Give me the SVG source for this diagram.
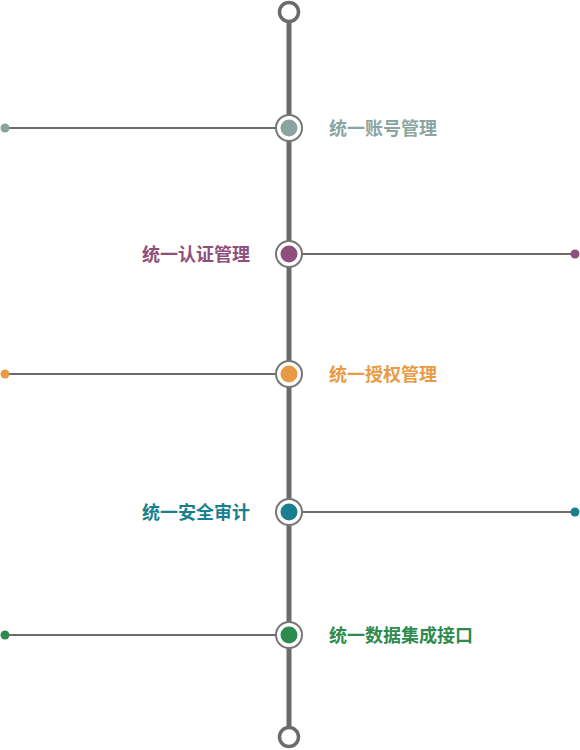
<svg xmlns="http://www.w3.org/2000/svg" width="580" height="750" viewBox="0 0 580 750">
<style>
.spine{stroke:#6b6b6b;stroke-width:5}
.end{fill:#fff;stroke:#6b6b6b;stroke-width:3.5}
.ring{fill:#fff;stroke:#777;stroke-width:2}
.conn{stroke:#6b6b6b;stroke-width:2}
text{font-family:"Noto Sans CJK SC","Noto Sans",sans-serif;font-size:18px;font-weight:bold;dominant-baseline:central}
</style>
<rect width="580" height="750" fill="#fff"/>
<g id="connectors">
<line class="spine" x1="289" y1="12" x2="289" y2="737"/>
<line class="conn" x1="5" y1="128" x2="289" y2="128"/>
<line class="conn" x1="289" y1="254" x2="575" y2="254"/>
<line class="conn" x1="5" y1="374" x2="289" y2="374"/>
<line class="conn" x1="289" y1="512" x2="575" y2="512"/>
<line class="conn" x1="5" y1="635" x2="289" y2="635"/>
</g>
<g id="top"><circle class="end" cx="289" cy="12" r="9.5"/></g>
<g id="bottom"><circle class="end" cx="289" cy="737" r="9.5"/></g>
<g id="n1">
<circle cx="5" cy="128" r="4.5" fill="#8aa5a0"/>
<circle class="ring" cx="289" cy="128" r="13"/>
<circle cx="289" cy="128" r="8.5" fill="#8aa5a0"/>
<text x="329" y="127" fill="#8aa5a0">统一账号管理</text>
</g>
<g id="n2">
<circle cx="575" cy="254" r="4.5" fill="#8e4f7a"/>
<circle class="ring" cx="289" cy="254" r="13"/>
<circle cx="289" cy="254" r="8.5" fill="#8e4f7a"/>
<text x="250" y="253" fill="#8e4f7a" text-anchor="end">统一认证管理</text>
</g>
<g id="n3">
<circle cx="5" cy="374" r="4.5" fill="#e89a45"/>
<circle class="ring" cx="289" cy="374" r="13"/>
<circle cx="289" cy="374" r="8.5" fill="#e89a45"/>
<text x="329" y="373" fill="#e89a45">统一授权管理</text>
</g>
<g id="n4">
<circle cx="575" cy="512" r="4.5" fill="#1a7f8e"/>
<circle class="ring" cx="289" cy="512" r="13"/>
<circle cx="289" cy="512" r="8.5" fill="#1a7f8e"/>
<text x="250" y="511" fill="#1a7f8e" text-anchor="end">统一安全审计</text>
</g>
<g id="n5">
<circle cx="5" cy="635" r="4.5" fill="#2e8b4f"/>
<circle class="ring" cx="289" cy="635" r="13"/>
<circle cx="289" cy="635" r="8.5" fill="#2e8b4f"/>
<text x="329" y="634" fill="#2e8b4f">统一数据集成接口</text>
</g>
</svg>
